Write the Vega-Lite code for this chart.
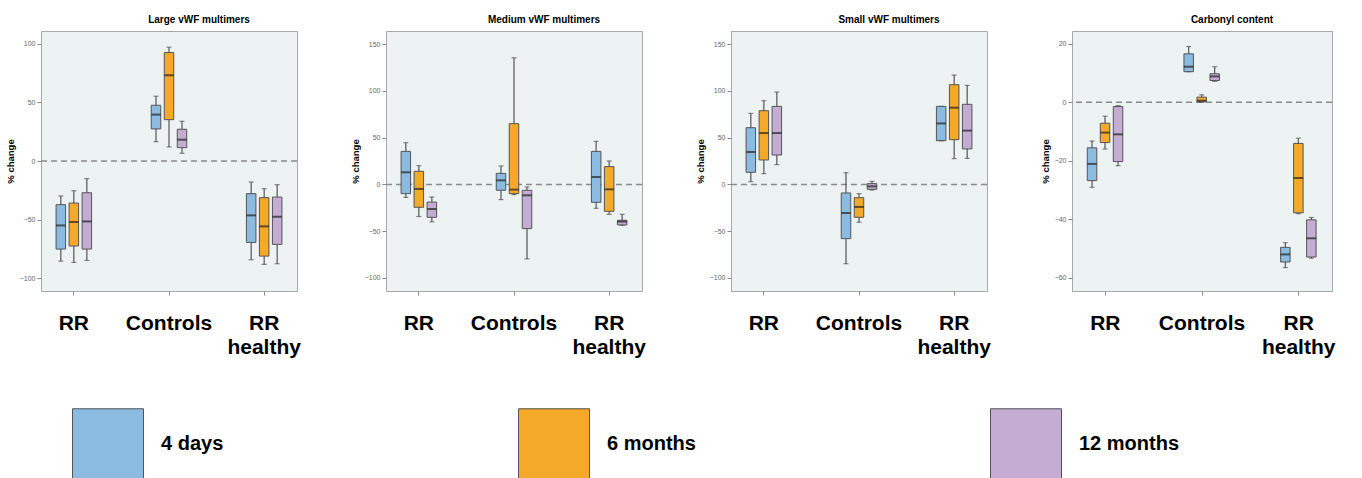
{
  "$schema": "https://vega.github.io/schema/vega-lite/v6.json",
  "background": "white",
  "padding": {"left": 4, "top": 14, "right": 0, "bottom": 0},
  "spacing": 48,
  "align": "none",
  "resolve": {"scale": {"y": "independent", "color": "shared"}},
  "config": {
    "view": {"fill": "#edf2f2", "stroke": "#a8a8a8", "strokeWidth": 1},
    "axisY": {"labelFontSize": 7, "labelColor": "#666", "labelFont": "Liberation Sans", "tickSize": 4, "tickColor": "#888", "domain": false, "grid": false, "labelPadding": 2, "titleFontSize": 9.5, "titleFont": "Liberation Sans", "titleFontWeight": "bold", "titleColor": "#000", "titlePadding": 4},
    "axisX": {"labelFontSize": 21, "labelFont": "Liberation Sans", "labelFontWeight": "bold", "labelColor": "#000", "domain": false, "tickSize": 4, "tickColor": "#888", "labelPadding": 17, "labelAngle": 0, "labelBaseline": "top", "labelLineHeight": 24, "grid": false, "labelOverlap": false},
    "title": {"fontSize": 10, "font": "Liberation Sans", "fontWeight": "bold", "color": "#000", "dx": 30, "anchor": "middle", "frame": "group", "offset": 6}
  },
  "datasets": {
    "boxes": [
      {"p": "Large", "g": "RR", "s": "4 days", "lo": -85.5, "q1": -75.2, "med": -55, "q3": -37.3, "hi": -29.9},
      {"p": "Large", "g": "RR", "s": "6 months", "lo": -86.6, "q1": -72.6, "med": -52.1, "q3": -35.9, "hi": -25.4},
      {"p": "Large", "g": "RR", "s": "12 months", "lo": -84.9, "q1": -75.2, "med": -51.6, "q3": -27.1, "hi": -15.1},
      {"p": "Large", "g": "Controls", "s": "4 days", "lo": 16.5, "q1": 27.4, "med": 39.6, "q3": 47.6, "hi": 55.3},
      {"p": "Large", "g": "Controls", "s": "6 months", "lo": 12, "q1": 35.3, "med": 73.2, "q3": 92.6, "hi": 97.2},
      {"p": "Large", "g": "Controls", "s": "12 months", "lo": 6.6, "q1": 11.4, "med": 18.2, "q3": 27.1, "hi": 33.9},
      {"p": "Large", "g": "RR healthy", "s": "4 days", "lo": -84.3, "q1": -69.5, "med": -46.4, "q3": -27.9, "hi": -17.9},
      {"p": "Large", "g": "RR healthy", "s": "6 months", "lo": -88.3, "q1": -81.2, "med": -55.8, "q3": -31.3, "hi": -23.6},
      {"p": "Large", "g": "RR healthy", "s": "12 months", "lo": -87.7, "q1": -71.2, "med": -47.6, "q3": -30.8, "hi": -20.2},
      {"p": "Medium", "g": "RR", "s": "4 days", "lo": -13.9, "q1": -9.9, "med": 12.9, "q3": 35.3, "hi": 44.6},
      {"p": "Medium", "g": "RR", "s": "6 months", "lo": -34.4, "q1": -24.5, "med": -4.9, "q3": 14, "hi": 20},
      {"p": "Medium", "g": "RR", "s": "12 months", "lo": -40.1, "q1": -35.2, "med": -26.3, "q3": -18.9, "hi": -13.5},
      {"p": "Medium", "g": "Controls", "s": "4 days", "lo": -16.3, "q1": -6.3, "med": 4.3, "q3": 11.8, "hi": 19.7},
      {"p": "Medium", "g": "Controls", "s": "6 months", "lo": -11, "q1": -9.9, "med": -5.6, "q3": 64.9, "hi": 135.4},
      {"p": "Medium", "g": "Controls", "s": "12 months", "lo": -79.7, "q1": -47.3, "med": -11.7, "q3": -6.3, "hi": -2.8},
      {"p": "Medium", "g": "RR healthy", "s": "4 days", "lo": -25.6, "q1": -19.2, "med": 7.9, "q3": 35.3, "hi": 46},
      {"p": "Medium", "g": "RR healthy", "s": "6 months", "lo": -32, "q1": -28.8, "med": -5.3, "q3": 19, "hi": 25},
      {"p": "Medium", "g": "RR healthy", "s": "12 months", "lo": -43.7, "q1": -43.4, "med": -39.8, "q3": -38.4, "hi": -32},
      {"p": "Small", "g": "RR", "s": "4 days", "lo": 2.9, "q1": 12.9, "med": 34.6, "q3": 60.6, "hi": 75.9},
      {"p": "Small", "g": "RR", "s": "6 months", "lo": 11.5, "q1": 26.1, "med": 54.9, "q3": 78.8, "hi": 89.5},
      {"p": "Small", "g": "RR", "s": "12 months", "lo": 21.1, "q1": 31.4, "med": 54.9, "q3": 83.4, "hi": 98.7},
      {"p": "Small", "g": "Controls", "s": "4 days", "lo": -84.8, "q1": -58, "med": -30.6, "q3": -9.2, "hi": 12.5},
      {"p": "Small", "g": "Controls", "s": "6 months", "lo": -40.5, "q1": -35.2, "med": -24.1, "q3": -14.2, "hi": -9.9},
      {"p": "Small", "g": "Controls", "s": "12 months", "lo": -6, "q1": -5.3, "med": -2.1, "q3": 0.8, "hi": 3.2},
      {"p": "Small", "g": "RR healthy", "s": "4 days", "lo": 46.7, "q1": 46.7, "med": 65.2, "q3": 83.4, "hi": 83.4},
      {"p": "Small", "g": "RR healthy", "s": "6 months", "lo": 27.5, "q1": 47.8, "med": 82, "q3": 106.6, "hi": 116.9},
      {"p": "Small", "g": "RR healthy", "s": "12 months", "lo": 27.8, "q1": 37.9, "med": 57.5, "q3": 85.6, "hi": 105.9},
      {"p": "Carbonyl", "g": "RR", "s": "4 days", "lo": -29.1, "q1": -26.8, "med": -21.1, "q3": -15.6, "hi": -13.3},
      {"p": "Carbonyl", "g": "RR", "s": "6 months", "lo": -16, "q1": -13.8, "med": -10.4, "q3": -7.2, "hi": -4.8},
      {"p": "Carbonyl", "g": "RR", "s": "12 months", "lo": -21.7, "q1": -20.3, "med": -11, "q3": -1.5, "hi": -1.2},
      {"p": "Carbonyl", "g": "Controls", "s": "4 days", "lo": 10.4, "q1": 10.4, "med": 12.1, "q3": 16.5, "hi": 19},
      {"p": "Carbonyl", "g": "Controls", "s": "6 months", "lo": 0, "q1": 0.1, "med": 0.5, "q3": 1.7, "hi": 2.5},
      {"p": "Carbonyl", "g": "Controls", "s": "12 months", "lo": 7.1, "q1": 7.4, "med": 8.8, "q3": 9.7, "hi": 12.1},
      {"p": "Carbonyl", "g": "RR healthy", "s": "4 days", "lo": -56.5, "q1": -54.6, "med": -52, "q3": -49.6, "hi": -48},
      {"p": "Carbonyl", "g": "RR healthy", "s": "6 months", "lo": -38.1, "q1": -37.8, "med": -25.9, "q3": -14.1, "hi": -12.3},
      {"p": "Carbonyl", "g": "RR healthy", "s": "12 months", "lo": -53.3, "q1": -52.9, "med": -46.5, "q3": -40.2, "hi": -39.4}
    ]
  },
  "hconcat": [
    {
      "title": "Large vWF multimers",
      "width": 256, "height": 260,
      "data": {"name": "boxes"},
      "transform": [{"filter": "datum.p === 'Large'"}],
      "layer": [
        {"data": {"values": [{"z": 0}]}, "mark": {"type": "rule", "color": "#8a8a8a", "strokeDash": [6, 4], "strokeWidth": 1.5}, "encoding": {"y": {"datum": 0, "type": "quantitative", "scale": {"domain": [-111, 111], "nice": false, "zero": false}, "title": "% change", "axis": {"values": [-100, -50, 0, 50, 100]}}}},
        {
          "encoding": {
            "x": {"field": "g", "type": "nominal", "sort": ["RR", "Controls", "RR healthy"], "scale": {"paddingInner": 0.59, "paddingOuter": 0.14}, "title": null, "axis": {"labelExpr": "datum.value === 'RR healthy' ? ['RR', 'healthy'] : datum.label"}},
            "xOffset": {"field": "s", "type": "nominal", "sort": ["4 days", "6 months", "12 months"], "scale": {"paddingInner": 0.27, "paddingOuter": 0.135}}
          },
          "layer": [
            {"mark": {"type": "rule", "color": "#555", "strokeWidth": 1.2}, "encoding": {"y": {"field": "lo", "type": "quantitative", "title": "% change"}, "y2": {"field": "hi"}}},
            {"mark": {"type": "bar", "stroke": "#555", "strokeWidth": 1}, "encoding": {"y": {"field": "q1", "type": "quantitative", "title": "% change"}, "y2": {"field": "q3"}, "color": {"field": "s", "type": "nominal", "sort": ["4 days", "6 months", "12 months"], "scale": {"domain": ["4 days", "6 months", "12 months"], "range": ["#8bbbe0", "#f5a928", "#c4acd3"]}, "legend": {"orient": "none", "legendX": 31, "legendY": 377, "direction": "horizontal", "columns": 3, "title": null, "symbolType": "square", "symbolSize": 5041, "symbolStrokeColor": "#777", "symbolStrokeWidth": 1, "symbolOpacity": 1, "labelFontSize": 20, "labelFont": "Liberation Sans", "labelFontWeight": "bold", "labelColor": "#000", "labelOffset": 17, "columnPadding": 292, "labelLimit": 300}}}},
            {"mark": {"type": "tick", "color": "#222", "size": 9.5, "thickness": 2}, "encoding": {"y": {"field": "med", "type": "quantitative", "title": "% change"}}},
            {"mark": {"type": "tick", "color": "#555", "size": 5, "thickness": 1.2}, "encoding": {"y": {"field": "lo", "type": "quantitative", "title": "% change"}}},
            {"mark": {"type": "tick", "color": "#555", "size": 5, "thickness": 1.2}, "encoding": {"y": {"field": "hi", "type": "quantitative", "title": "% change"}}}
          ]
        }
      ]
    },
    {
      "title": "Medium vWF multimers",
      "width": 256, "height": 260,
      "data": {"name": "boxes"},
      "transform": [{"filter": "datum.p === 'Medium'"}],
      "layer": [
        {"data": {"values": [{"z": 0}]}, "mark": {"type": "rule", "color": "#8a8a8a", "strokeDash": [6, 4], "strokeWidth": 1.5}, "encoding": {"y": {"datum": 0, "type": "quantitative", "scale": {"domain": [-114, 164], "nice": false, "zero": false}, "title": "% change", "axis": {"values": [-100, -50, 0, 50, 100, 150]}}}},
        {
          "encoding": {
            "x": {"field": "g", "type": "nominal", "sort": ["RR", "Controls", "RR healthy"], "scale": {"paddingInner": 0.59, "paddingOuter": 0.14}, "title": null, "axis": {"labelExpr": "datum.value === 'RR healthy' ? ['RR', 'healthy'] : datum.label"}},
            "xOffset": {"field": "s", "type": "nominal", "sort": ["4 days", "6 months", "12 months"], "scale": {"paddingInner": 0.27, "paddingOuter": 0.135}}
          },
          "layer": [
            {"mark": {"type": "rule", "color": "#555", "strokeWidth": 1.2}, "encoding": {"y": {"field": "lo", "type": "quantitative", "title": "% change"}, "y2": {"field": "hi"}}},
            {"mark": {"type": "bar", "stroke": "#555", "strokeWidth": 1}, "encoding": {"y": {"field": "q1", "type": "quantitative", "title": "% change"}, "y2": {"field": "q3"}, "color": {"field": "s", "type": "nominal", "sort": ["4 days", "6 months", "12 months"]}}},
            {"mark": {"type": "tick", "color": "#222", "size": 9.5, "thickness": 2}, "encoding": {"y": {"field": "med", "type": "quantitative", "title": "% change"}}},
            {"mark": {"type": "tick", "color": "#555", "size": 5, "thickness": 1.2}, "encoding": {"y": {"field": "lo", "type": "quantitative", "title": "% change"}}},
            {"mark": {"type": "tick", "color": "#555", "size": 5, "thickness": 1.2}, "encoding": {"y": {"field": "hi", "type": "quantitative", "title": "% change"}}}
          ]
        }
      ]
    },
    {
      "title": "Small vWF multimers",
      "width": 256, "height": 260,
      "data": {"name": "boxes"},
      "transform": [{"filter": "datum.p === 'Small'"}],
      "layer": [
        {"data": {"values": [{"z": 0}]}, "mark": {"type": "rule", "color": "#8a8a8a", "strokeDash": [6, 4], "strokeWidth": 1.5}, "encoding": {"y": {"datum": 0, "type": "quantitative", "scale": {"domain": [-114, 164], "nice": false, "zero": false}, "title": "% change", "axis": {"values": [-100, -50, 0, 50, 100, 150]}}}},
        {
          "encoding": {
            "x": {"field": "g", "type": "nominal", "sort": ["RR", "Controls", "RR healthy"], "scale": {"paddingInner": 0.59, "paddingOuter": 0.14}, "title": null, "axis": {"labelExpr": "datum.value === 'RR healthy' ? ['RR', 'healthy'] : datum.label"}},
            "xOffset": {"field": "s", "type": "nominal", "sort": ["4 days", "6 months", "12 months"], "scale": {"paddingInner": 0.27, "paddingOuter": 0.135}}
          },
          "layer": [
            {"mark": {"type": "rule", "color": "#555", "strokeWidth": 1.2}, "encoding": {"y": {"field": "lo", "type": "quantitative", "title": "% change"}, "y2": {"field": "hi"}}},
            {"mark": {"type": "bar", "stroke": "#555", "strokeWidth": 1}, "encoding": {"y": {"field": "q1", "type": "quantitative", "title": "% change"}, "y2": {"field": "q3"}, "color": {"field": "s", "type": "nominal", "sort": ["4 days", "6 months", "12 months"]}}},
            {"mark": {"type": "tick", "color": "#222", "size": 9.5, "thickness": 2}, "encoding": {"y": {"field": "med", "type": "quantitative", "title": "% change"}}},
            {"mark": {"type": "tick", "color": "#555", "size": 5, "thickness": 1.2}, "encoding": {"y": {"field": "lo", "type": "quantitative", "title": "% change"}}},
            {"mark": {"type": "tick", "color": "#555", "size": 5, "thickness": 1.2}, "encoding": {"y": {"field": "hi", "type": "quantitative", "title": "% change"}}}
          ]
        }
      ]
    },
    {
      "title": "Carbonyl content",
      "width": 260, "height": 260,
      "data": {"name": "boxes"},
      "transform": [{"filter": "datum.p === 'Carbonyl'"}],
      "layer": [
        {"data": {"values": [{"z": 0}]}, "mark": {"type": "rule", "color": "#8a8a8a", "strokeDash": [6, 4], "strokeWidth": 1.5}, "encoding": {"y": {"datum": 0, "type": "quantitative", "scale": {"domain": [-64.5, 24.3], "nice": false, "zero": false}, "title": "% change", "axis": {"values": [-60, -40, -20, 0, 20]}}}},
        {
          "encoding": {
            "x": {"field": "g", "type": "nominal", "sort": ["RR", "Controls", "RR healthy"], "scale": {"paddingInner": 0.59, "paddingOuter": 0.14}, "title": null, "axis": {"labelExpr": "datum.value === 'RR healthy' ? ['RR', 'healthy'] : datum.label"}},
            "xOffset": {"field": "s", "type": "nominal", "sort": ["4 days", "6 months", "12 months"], "scale": {"paddingInner": 0.27, "paddingOuter": 0.135}}
          },
          "layer": [
            {"mark": {"type": "rule", "color": "#555", "strokeWidth": 1.2}, "encoding": {"y": {"field": "lo", "type": "quantitative", "title": "% change"}, "y2": {"field": "hi"}}},
            {"mark": {"type": "bar", "stroke": "#555", "strokeWidth": 1}, "encoding": {"y": {"field": "q1", "type": "quantitative", "title": "% change"}, "y2": {"field": "q3"}, "color": {"field": "s", "type": "nominal", "sort": ["4 days", "6 months", "12 months"]}}},
            {"mark": {"type": "tick", "color": "#222", "size": 9.5, "thickness": 2}, "encoding": {"y": {"field": "med", "type": "quantitative", "title": "% change"}}},
            {"mark": {"type": "tick", "color": "#555", "size": 5, "thickness": 1.2}, "encoding": {"y": {"field": "lo", "type": "quantitative", "title": "% change"}}},
            {"mark": {"type": "tick", "color": "#555", "size": 5, "thickness": 1.2}, "encoding": {"y": {"field": "hi", "type": "quantitative", "title": "% change"}}}
          ]
        }
      ]
    }
  ]
}
